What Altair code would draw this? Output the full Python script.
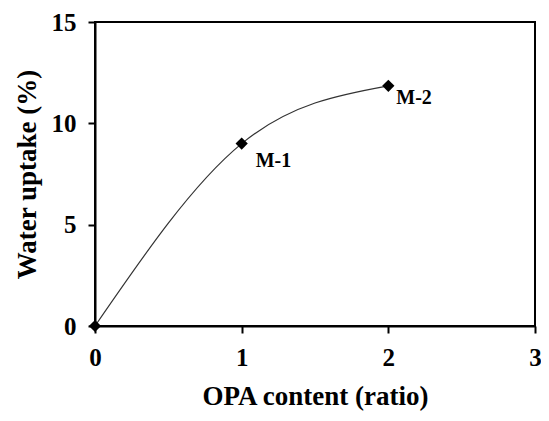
import altair as alt
import pandas as pd

# Data
opa_ratio = [0, 1, 2]
water_uptake = [0.0, 9.0, 11.85]
sample_labels = ["", "M-1", "M-2"]

x_ticks = [0, 1, 2, 3]
y_ticks = [0, 5, 10, 15]

df = pd.DataFrame({"opa": opa_ratio, "uptake": water_uptake, "label": sample_labels})

FONT = "Liberation Serif"

x = alt.X(
    "opa:Q",
    scale=alt.Scale(domain=[0, 3], nice=False, zero=False),
    axis=alt.Axis(values=x_ticks, format="d", title="OPA content (ratio)",
                  labelFlush=False, titlePadding=13),
)
y = alt.Y(
    "uptake:Q",
    scale=alt.Scale(domain=[0, 15], nice=False),
    axis=alt.Axis(values=y_ticks, format="d", title="Water uptake (%)", titlePadding=10),
)

base = alt.Chart(df)

line = base.mark_line(interpolate="natural", color="#333333", strokeWidth=1.2).encode(x=x, y=y)

points = base.mark_point(shape="diamond", filled=True, size=150, color="black", opacity=1).encode(x=x, y=y)

lab1 = base.transform_filter("datum.label == 'M-1'").mark_text(
    align="left", baseline="alphabetic", dx=14, dy=23,
    font=FONT, fontWeight="bold", fontSize=20, color="black",
).encode(x=x, y=y, text="label:N")

lab2 = base.transform_filter("datum.label == 'M-2'").mark_text(
    align="left", baseline="alphabetic", dx=8, dy=18,
    font=FONT, fontWeight="bold", fontSize=20, color="black",
).encode(x=x, y=y, text="label:N")

chart = (
    alt.layer(line, points, lab1, lab2)
    .properties(
        width=440,
        height=304,
        autosize=alt.AutoSizeParams(type="none"),
        padding={"left": 87, "top": 14, "right": 6, "bottom": 87},
    )
    .configure_view(stroke="black", strokeWidth=2)
    .configure_axis(
        grid=False,
        domainColor="black",
        domainWidth=2,
        tickColor="black",
        tickWidth=2,
        tickSize=7,
        labelFont=FONT,
        labelFontSize=25,
        labelFontWeight="bold",
        labelColor="black",
        labelPadding=12,
        labelOverlap=False,
        titleFont=FONT,
        titleFontSize=27,
        titleFontWeight="bold",
        titleColor="black",
    )
)

chart.save("out.html", embed_options={"renderer": "svg", "actions": False})
